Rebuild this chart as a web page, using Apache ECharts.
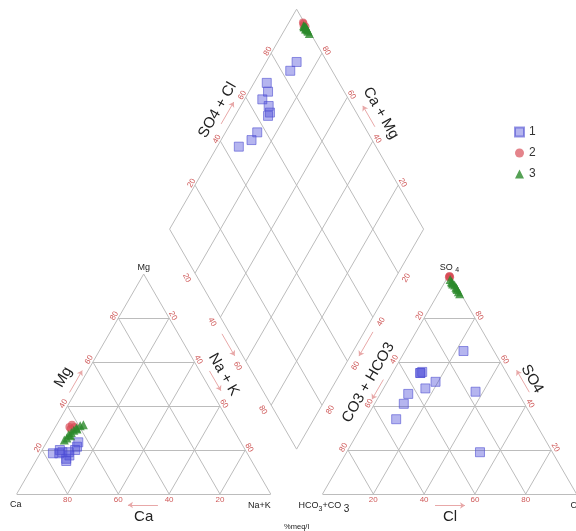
<!DOCTYPE html>
<html>
<head>
<meta charset="utf-8">
<script src="https://cdn.jsdelivr.net/npm/echarts@6/dist/echarts.min.js"></script>
<style>
  html, body { margin: 0; padding: 0; background: #fff; }
  #piper { width: 576px; height: 531px; }
</style>
</head>
<body>
<div id="piper"></div>
<script>
// samples, % meq/l  (series "1")
const ca1  = [73, 72.5, 76.5, 74, 73, 70, 67, 64, 70.5, 72.5, 65.5];
const mg1  = [15, 16, 18.5, 18.5, 20, 19, 20, 23.5, 17.5, 19, 21.5];
const nak1 = [12, 11.5, 5, 7.5, 7, 11, 13, 12.5, 12, 8.5, 13];
const hco1 = [12, 16.5, 28.5, 30, 34, 33, 35.5, 43.5, 47.5, 54, 34];
const so41 = [65, 46.5, 19, 51, 55, 55.5, 48, 45.5, 41, 34, 55];
const cl1  = [23, 37, 52.5, 19, 11, 11.5, 16.5, 11, 11.5, 12, 11];

// series "2"
const ca2  = [64, 62.5, 64, 62];
const mg2  = [30.5, 31.5, 29.5, 30.5];
const nak2 = [5.5, 6, 6.5, 7.5];
const hco2 = [0.5, 0.5, 1, 0.5];
const so42 = [99, 98.5, 98.5, 99];
const cl2  = [0.5, 1, 0.5, 0.5];

// series "3"
const ca3  = [69, 67.5, 66, 64.5, 63, 61.5, 59.5, 58, 65.5, 61.5];
const mg3  = [24.5, 25.5, 27, 28, 29, 30, 31, 31.5, 26.5, 29.5];
const nak3 = [6.5, 7, 7, 7.5, 8, 8.5, 9.5, 10.5, 8, 9];
const hco3 = [1, 1, 1, 0.5, 0.5, 0.5, 0.5, 0.5, 1, 0.5];
const so43 = [97.5, 96.5, 95.5, 95, 94, 93, 92, 91, 96, 93.5];
const cl3  = [1.5, 2.5, 3.5, 4.5, 5.5, 6.5, 7.5, 8.5, 3, 6];

const ticks = [20, 40, 60, 80];

// layout: one triangle side = SCALE px
const SCALE = 254, X0 = 16.7, Y0 = 494, W = 576, H = 531;
const S = Math.sqrt(3) / 2, GAP = 0.204;

function cat(ca, mg, na) { const t = ca + mg + na; return [na / t + mg / t / 2, mg / t * S]; }
function an(hc, so, cl) { const t = hc + so + cl; return [1 + GAP + cl / t + so / t / 2, so / t * S]; }
function dia(na, sc) { return [1 + GAP / 2 - (1 - na) / 2 + sc / 2, S * (GAP + (1 - na) + sc)]; }

const Vca = cat(100, 0, 0), Vmg = cat(0, 100, 0), Vna = cat(0, 0, 100);
const Ahc = an(100, 0, 0), Aso = an(0, 100, 0), Acl = an(0, 0, 100);
const Db = dia(1, 0), Dl = dia(0, 0), Dr = dia(1, 1), Dt = dia(0, 1);
const catC = [0.5, S / 3], anC = [1.5 + GAP, S / 3], diaC = [1 + GAP / 2, S * (GAP + 1)];

// point at fraction t of edge A->B, pushed d px away from the shape centre
function edge(A, B, t, d, C) {
  const x = A[0] + (B[0] - A[0]) * t, y = A[1] + (B[1] - A[1]) * t;
  let nx = -(B[1] - A[1]), ny = B[0] - A[0];
  const l = Math.hypot(nx, ny); nx /= l; ny /= l;
  if ((C[0] - x) * nx + (C[1] - y) * ny > 0) { nx = -nx; ny = -ny; }
  return [x + nx * d / SCALE, y + ny * d / SCALE];
}
function near(V, dx, dy) { return [V[0] + dx / SCALE, V[1] - dy / SCALE]; }

// grid lines
const gridLines = [];
function seg(a, b) { gridLines.push({ coords: [a, b] }); }
[0].concat(ticks).forEach(function (k) {
  seg(cat(100 - k, k, 0), cat(0, k, 100 - k));
  seg(cat(100 - k, 0, k), cat(0, 100 - k, k));
  seg(cat(k, 0, 100 - k), cat(k, 100 - k, 0));
  seg(an(100 - k, k, 0), an(0, k, 100 - k));
  seg(an(100 - k, 0, k), an(0, 100 - k, k));
  seg(an(k, 0, 100 - k), an(k, 100 - k, 0));
});
[0, 20, 40, 60, 80, 100].forEach(function (k) {
  seg(dia(k / 100, 0), dia(k / 100, 1));
  seg(dia(0, k / 100), dia(1, k / 100));
});

// small direction arrows
const arrows = [];
function arrow(A, B, t0, t1, d, C) { arrows.push({ coords: [edge(A, B, t0, d, C), edge(A, B, t1, d, C)] }); }
arrow(Vca, Vmg, 0.45, 0.55, 5, catC);
arrow(Vna, Vmg, 0.54, 0.45, 8.5, catC);
arrow(Vca, Vna, 0.556, 0.438, 11, catC);
arrow(Dl, Db, 0.46, 0.56, 7, diaC);
arrow(Db, Dr, 0.55, 0.44, 7.5, diaC);
arrow(Dl, Dt, 0.46, 0.56, 8, diaC);
arrow(Dt, Dr, 0.555, 0.46, 9, diaC);
arrow(Ahc, Aso, 0.51, 0.42, 4.5, anC);
arrow(Acl, Aso, 0.44, 0.54, 10, anC);
arrow(Ahc, Acl, 0.443, 0.561, 11.5, anC);

// texts
const RED = '#cf5a5a', INK = '#222';
const texts = [];
function txt(p, text, o) { texts.push(Object.assign({ p: p, text: text, rot: 0, size: 8, color: RED, align: 'center' }, o || {})); }
ticks.forEach(function (k) {
  const f = k / 100, g = (100 - k) / 100;
  txt(edge(Vca, Vna, g, 6, catC), k);
  txt(edge(Vca, Vmg, f, 4.5, catC), k, { rot: 60 });
  txt(edge(Vna, Vmg, g, 4.5, catC), k, { rot: -60 });
  txt(edge(Ahc, Acl, f, 6, anC), k);
  txt(edge(Ahc, Aso, g, 5, anC), k, { rot: 60 });
  txt(edge(Acl, Aso, f, 5, anC), k, { rot: -60 });
  txt(edge(Dl, Db, f, 9.5, diaC), k, { rot: -60 });
  txt(edge(Dl, Dt, f, 4, diaC), k, { rot: 60 });
  txt(edge(Dt, Dr, g, 5, diaC), k, { rot: -60 });
  txt(edge(Db, Dr, g, 9.5, diaC), k, { rot: 60 });
});
const T = { size: 15, color: INK };
txt(edge(Vca, Vmg, 0.49, 18, catC), 'Mg', Object.assign({ rot: 60 }, T));
txt(edge(Vna, Vmg, 0.5, 19, catC), 'Na + K', Object.assign({ rot: -60 }, T));
txt(edge(Vca, Vna, 0.5, 23, catC), 'Ca', T);
txt(edge(Dl, Dt, 0.5, 18, diaC), 'SO4 + Cl', Object.assign({ rot: 60 }, T));
txt(edge(Dt, Dr, 0.52, 21, diaC), 'Ca + Mg', Object.assign({ rot: -60 }, T));
txt(edge(Ahc, Aso, 0.47, 16, anC), 'CO3 + HCO3', Object.assign({ rot: 60 }, T));
txt(edge(Acl, Aso, 0.48, 19, anC), 'SO4', Object.assign({ rot: -60 }, T));
txt(edge(Ahc, Acl, 0.502, 23, anC), 'Cl', T);
const V = { size: 9, color: INK };
txt(near(Vmg, 0, -7), 'Mg', V);
txt(near(Vca, -1, 10.5), 'Ca', V);
txt(near(Vna, 0, 12), 'Na+K', Object.assign({ align: 'right' }, V));
txt(near(Ahc, -24, 12), '{a|HCO}{b|3}{a|+CO }{c|3}', Object.assign({ align: 'left', rich: true }, V));
txt(near(Aso, 0, -7), '{a|SO }{b|4}', Object.assign({ rich: true }, V));
txt(near(Acl, -6, 12), 'Cl', Object.assign({ align: 'left' }, V));
txt([Db[0], -(H - 4 - Y0) / SCALE], '%meq/l', { size: 7.5, color: INK });

function pts(ca, mg, na, hc, so, cl) {
  const out = [];
  for (let i = 0; i < ca.length; i++) {
    out.push(cat(ca[i], mg[i], na[i]));
    out.push(an(hc[i], so[i], cl[i]));
    out.push(dia(na[i] / (ca[i] + mg[i] + na[i]), (so[i] + cl[i]) / (hc[i] + so[i] + cl[i])));
  }
  return out;
}

const chart = echarts.init(document.getElementById('piper'));
chart.setOption({
  animation: false,
  grid: { left: 0, right: 0, top: 0, bottom: 0 },
  xAxis: { type: 'value', min: -X0 / SCALE, max: (W - X0) / SCALE, show: false },
  yAxis: { type: 'value', min: -(H - Y0) / SCALE, max: Y0 / SCALE, show: false },
  legend: {
    orient: 'vertical', left: 509, top: 121, itemWidth: 9, itemHeight: 9, itemGap: 9,
    textStyle: { fontSize: 12, color: '#333', fontFamily: 'Liberation Sans, Arial, sans-serif' },
    data: ['1', '2', '3']
  },
  series: [
    {
      type: 'lines', coordinateSystem: 'cartesian2d', silent: true, z: 1,
      lineStyle: { color: '#bcbcbc', width: 1, opacity: 1 },
      data: gridLines
    },
    {
      type: 'lines', coordinateSystem: 'cartesian2d', silent: true, z: 1,
      symbol: ['none', 'arrow'], symbolSize: 5,
      lineStyle: { color: '#e8a8a8', width: 1, opacity: 1 },
      data: arrows
    },
    {
      type: 'custom', coordinateSystem: 'cartesian2d', silent: true, z: 3,
      data: texts.map(function (t) { return t.p; }),
      renderItem: function (params, api) {
        const t = texts[params.dataIndex];
        const c = api.coord([api.value(0), api.value(1)]);
        const style = {
          text: String(t.text), fill: t.color, fontSize: t.size,
          fontFamily: 'Liberation Sans, Arial, sans-serif',
          textAlign: t.align, textVerticalAlign: 'middle',
          align: t.align, verticalAlign: 'middle'
        };
        if (t.rich) {
          style.rich = {
            a: { fontSize: t.size, fill: t.color },
            b: { fontSize: t.size - 2, fill: t.color, padding: [6, 0, 0, 0] },
            c: { fontSize: t.size + 1, fill: t.color, padding: [7, 0, 0, 0] }
          };
        }
        return { type: 'text', x: c[0], y: c[1], rotation: t.rot * Math.PI / 180, style: style };
      }
    },
    {
      name: '1', type: 'scatter', symbol: 'rect', symbolSize: 9, clip: false, z: 4,
      itemStyle: { color: 'rgba(70,70,215,0.5)', borderColor: 'rgba(80,80,210,0.75)', borderWidth: 1 },
      data: pts(ca1, mg1, nak1, hco1, so41, cl1)
    },
    {
      name: '2', type: 'scatter', symbol: 'circle', symbolSize: 8, clip: false, z: 5,
      itemStyle: { color: 'rgba(215,75,85,0.85)' },
      data: pts(ca2, mg2, nak2, hco2, so42, cl2)
    },
    {
      name: '3', type: 'scatter', symbol: 'triangle', symbolSize: 9, clip: false, z: 6,
      itemStyle: { color: '#2a8a2a' },
      data: pts(ca3, mg3, nak3, hco3, so43, cl3)
    }
  ]
});
</script>
</body>
</html>
